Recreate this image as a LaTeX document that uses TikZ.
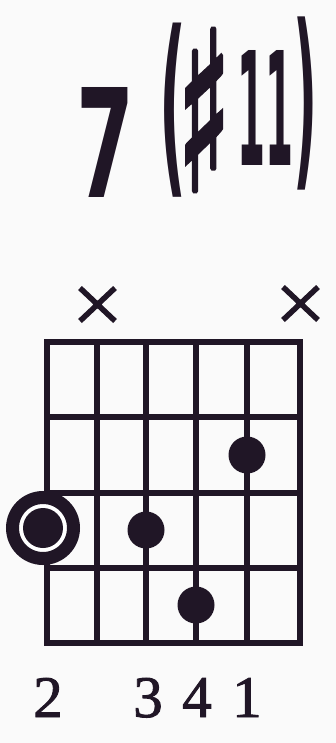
\documentclass[tikz,border=0pt]{standalone}
\usepackage{fontspec}
\usepackage{graphicx}
\setmainfont{Liberation Serif}
\newfontfamily\numfont{Liberation Serif}[BoldFont=Liberation Serif, BoldFeatures={FakeBold=1.5}]
\newfontfamily\titlefont{DejaVu Sans Bold}
\newfontfamily\symfont{DejaVu Sans}[FakeBold=3]
\definecolor{ink}{RGB}{32,22,38}
\definecolor{paper}{RGB}{250,250,250}
\tikzset{
  grid line/.style={draw=ink, line width=6.5pt},
  frame line/.style={draw=ink, line width=6.5pt, line join=miter},
  fingerdot/.style={circle, fill=ink, inner sep=0pt, minimum size=37pt},
  rootring/.style={circle, draw=ink, fill=white, line width=13pt, inner sep=0pt, minimum size=61pt},
  mutemark/.style={draw=ink, line width=5.5pt},
  fingernum/.style={inner sep=0pt, anchor=base, text=ink, font=\numfont\fontsize{59}{59}\selectfont\bfseries},
  titlepart/.style={inner sep=0pt, text=ink}
}
\begin{document}
\begin{tikzpicture}[x=1pt, y=-1pt]
\fill[paper] (0,0) rectangle (336,743);
\useasboundingbox (0,0) rectangle (336,743);

% title
\node[titlepart] (t7) at (106,142) {\resizebox{58pt}{110pt}{\titlefont 7}};
\node[titlepart] (tlp) at (173,110) {\resizebox*{27pt}{174pt}{\titlefont (}};
\node[titlepart] (tsharp) at (204,110) {\resizebox{53pt}{160pt}{\symfont\bfseries ♯}};
\node[titlepart] (t11) at (265,108) {\resizebox{56pt}{115pt}{\titlefont 11}};
\node[titlepart] (trp) at (305,104) {\resizebox*{24pt}{173pt}{\titlefont )}};

% mute marks
\coordinate (m1a) at (80,288); \coordinate (m1b) at (115,321);
\coordinate (m1c) at (80,321); \coordinate (m1d) at (115,288);
\draw[mutemark] (m1a) -- (m1b) (m1c) -- (m1d);
\coordinate (m2a) at (283,287); \coordinate (m2b) at (318,320);
\coordinate (m2c) at (283,320); \coordinate (m2d) at (318,287);
\draw[mutemark] (m2a) -- (m2b) (m2c) -- (m2d);

% grid
\foreach \i/\x in {2/97,3/146,4/196,5/247} {
  \coordinate (st\i) at (\x,342);
  \coordinate (sb\i) at (\x,643);
  \draw[grid line] (st\i) -- (sb\i);
}
\foreach \j/\y in {2/417,3/493,4/568} {
  \coordinate (fl\j) at (47,\y);
  \coordinate (fr\j) at (300,\y);
  \draw[grid line] (fl\j) -- (fr\j);
}
\coordinate (tl) at (47,342);
\coordinate (br) at (300,643);
\draw[frame line] (tl) rectangle (br);

% dots
\node[fingerdot] (d5) at (247,455) {};
\node[fingerdot] (d3) at (146,530) {};
\node[fingerdot] (d4) at (196,605) {};
\node[rootring] (ring) at (43,528) {};
\node[fingerdot, minimum size=40pt] (d1) at (43,528) {};

% finger numbers
\node[fingernum] (n2) at (48,717) {2};
\node[fingernum] (n3) at (148,717) {3};
\node[fingernum] (n4) at (197,717) {4};
\node[fingernum] (n1) at (247,717) {1};
\end{tikzpicture}
\end{document}
